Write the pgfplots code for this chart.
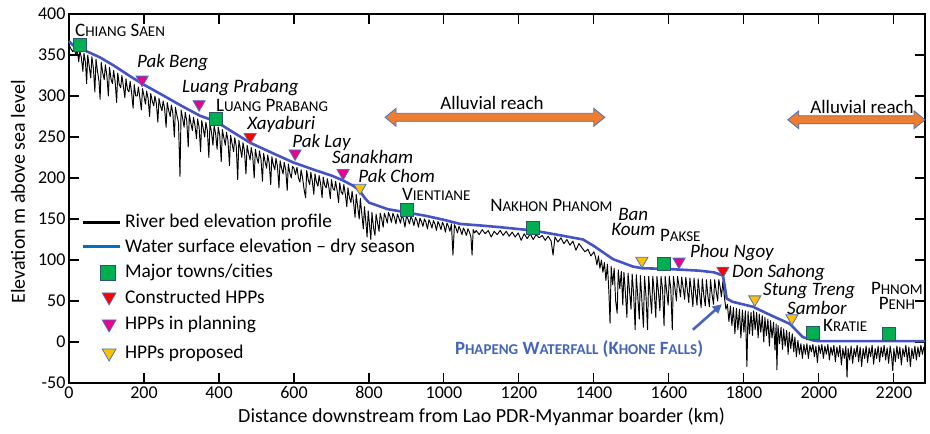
\documentclass[border=0pt]{standalone}
\usepackage{fontspec}
\setmainfont{Carlito}
\usepackage{pgfplots}
\pgfplotsset{compat=1.18}
\usetikzlibrary{calc,arrows.meta}
\definecolor{water}{RGB}{68,84,196}
\definecolor{legblue}{RGB}{0,112,192}
\definecolor{town}{RGB}{0,176,80}
\definecolor{townedge}{RGB}{45,85,110}
\definecolor{triedge}{RGB}{68,114,196}
\definecolor{hppgold}{RGB}{255,192,0}
\definecolor{arroworange}{RGB}{237,125,49}
\definecolor{fallblue}{RGB}{68,100,190}
\newcommand{\scsmall}{\fontsize{15}{15}\selectfont}
\newcommand{\SC}[2]{#1{\scsmall #2}}
\newcommand{\dblarrow}[3]{\draw[fill=arroworange, draw=triedge, line width=0.8pt]
 (axis cs:#1,#3) -- ++(11pt,9pt) -- ++(0pt,-5pt) -- ($(axis cs:#2,#3)+(-11pt,4pt)$) -- ++(0pt,5pt) -- (axis cs:#2,#3) -- ++(-11pt,-9pt) -- ++(0pt,5pt) -- ($(axis cs:#1,#3)+(11pt,-4pt)$) -- ++(0pt,-5pt) -- cycle;}
\begin{document}
\begin{tikzpicture}
\begin{axis}[
 scale only axis, width=856pt, height=369pt,
 xmin=0, xmax=2283, ymin=-50, ymax=400,
 xtick={0,200,...,2200}, ytick={-50,0,...,400},
 tick align=inside, major tick length=10pt,
 axis line style={line width=1.3pt},
 every tick/.style={black, line width=1.1pt},
 tick label style={font=\fontsize{18}{18}\selectfont},
 /pgf/number format/assume math mode=true,
 /pgf/number format/set thousands separator={},
 xlabel={Distance downstream from Lao PDR-Myanmar boarder (km)},
 ylabel={Elevation m above sea level},
 label style={font=\fontsize{20}{20}\selectfont},
 xlabel style={at={(axis description cs:0.482,-0.092)}, anchor=center},
 ylabel style={at={(axis description cs:-0.0596,0.518)}, anchor=center},
 clip=false,
]
% river bed
\addplot[black, line width=0.95pt, line join=round] coordinates {
(0,362)(6,357)(10,354)(14,359)(18,350)(22,356)(26,342)(29,355)(33,347)(37,330)(40,352)(44,341)(47,315)(50,350)(54,336)(58,322)(61,348)(65,334)(69,305)(72,345)(76,330)(80,318)(83,296)(86,341)(90,328)(94,320)(97,338)(101,325)(105,300)(108,335)(112,321)(116,315)(119,331)(123,318)(127,292)(130,328)(134,314)(138,310)(141,325)(145,312)(149,298)(152,321)(156,308)(160,305)(163,318)(167,304)(171,285)(174,314)(178,300)(182,300)(185,311)(189,298)(193,283)
(196,309)(200,300)(204,290)(207,306)(211,297)(215,275)(218,303)(222,294)(226,288)(229,300)(233,291)(237,268)(240,297)(244,288)(248,282)(251,294)(255,285)(259,262)(262,292)(266,282)(270,275)(273,289)(277,279)(281,250)(284,286)(288,276)(292,268)(296,202)(299,283)(303,273)(307,262)(310,280)(314,270)(318,238)(321,277)(325,267)(329,258)(332,274)(336,264)(340,248)(343,272)(347,262)(351,232)(354,270)(358,260)(362,250)(365,268)(369,258)(373,225)(376,266)(380,256)(384,240)(387,264)(391,254)(395,235)(398,262)(402,252)(406,220)(409,259)(413,249)(417,240)(420,256)(424,246)(428,215)(431,252)(435,242)(439,232)(442,249)(446,239)(450,198)(453,246)(457,236)(461,225)(464,243)(468,233)(472,205)(475,240)(479,230)(483,222)(486,237)(490,227)(494,200)(497,235)(501,225)(505,218)(508,233)(512,223)(516,196)(519,230)(523,220)(527,212)(530,228)(534,218)(538,192)(541,226)(545,216)(549,210)(552,224)(556,214)(560,188)(563,221)(567,212)(571,205)(574,219)(578,210)(582,185)(585,217)(589,206)(593,200)(596,214)
(600,212)(604,204)(608,213)(612,200)(616,195)(619,210)(623,200)(627,186)(631,176)(634,209)(638,198)(642,192)(645,207)(649,196)(653,180)(656,205)(660,195)(664,190)(667,203)(671,193)(675,176)(678,201)(682,191)(686,188)(689,199)(693,189)(697,175)(700,198)(704,187)(708,185)(711,196)(715,185)(719,170)(722,194)(726,183)(730,180)(733,192)(737,180)(741,165)(744,188)(748,176)(752,170)(755,184)(759,170)(763,152)(766,180)(770,165)(774,150)(777,175)(781,156)(785,138)(788,165)(792,145)(795,128)(798,160)(802,140)(805,125)(808,158)(812,140)(816,130)(819,156)(823,145)(827,135)(830,157)(834,150)(838,140)(841,157)(845,152)(849,145)(852,158)(856,153)(860,146)(864,157)(868,152)(872,144)(876,156)(880,151)(884,145)(888,155)(892,150)(896,140)(900,154)(904,150)(908,144)(912,153)(916,149)(920,142)(924,152)(928,148)(932,140)(936,151)(940,147)(944,141)(948,150)(952,146)(956,138)(960,149)(964,145)(968,139)(972,148)(976,144)(980,136)(984,147)(988,143)(992,137)(996,146)(1000,142)(1004,134)(1008,145)(1012,141)(1016,135)(1020,144)(1024,106)(1028,143)(1032,139)(1036,133)(1040,141)(1044,137)(1048,131)(1052,139)(1056,135)(1060,130)(1064,138)(1068,134)(1072,128)(1075,106)(1078,137)(1082,133)
(1086,136)(1094,131)(1102,137)(1110,132)(1118,136)(1126,128)(1134,135)(1142,131)(1150,136)(1158,130)(1166,135)(1174,129)(1182,134)(1190,128)(1198,133)(1206,124)(1214,132)(1222,126)(1230,132)(1238,125)(1246,131)(1254,127)(1262,130)(1270,124)(1278,129)(1286,123)(1291,106)(1296,128)(1304,122)(1312,127)(1320,120)(1328,125)(1336,118)(1344,123)(1352,112)(1360,120)(1368,115)(1376,110)(1384,113)(1392,105)(1400,110)
(1404,104)(1408,94)(1412,105)(1416,90)(1420,100)(1424,85)(1428,97)(1432,75)(1436,95)(1440,60)(1443,23)(1446,92)(1450,70)(1454,90)(1458,50)(1462,35)(1465,88)(1469,65)(1473,86)(1477,45)(1480,85)(1484,60)(1488,30)(1491,84)(1495,62)(1499,40)(1502,83)(1506,58)(1510,15)(1513,82)(1517,55)(1521,28)(1524,81)(1528,50)(1532,18)(1535,80)(1539,55)(1543,15)(1546,80)(1550,58)(1554,35)(1557,80)(1561,60)(1565,30)(1568,80)(1572,62)(1576,38)(1579,80)(1583,64)(1587,20)(1590,80)(1594,62)(1598,45)(1601,80)(1605,65)(1609,15)(1612,80)(1616,66)(1620,50)(1623,80)(1627,68)(1631,55)(1634,79)(1638,66)(1642,52)(1645,79)(1649,64)(1653,48)(1656,78)(1660,62)(1664,43)(1667,78)(1671,60)(1675,45)(1678,77)(1682,58)(1686,42)(1689,77)(1693,57)(1697,44)(1700,76)(1704,56)(1708,43)(1711,76)(1715,58)(1719,46)(1722,76)(1726,62)(1730,50)(1733,76)(1737,66)(1740,55)(1744,74)(1748,55)(1752,40)
(1756,46)(1760,25)(1764,44)(1768,20)(1772,42)(1776,10)(1780,41)(1784,15)(1788,40)(1792,5)(1796,39)(1800,12)(1804,38)(1808,-30)(1811,37)(1815,10)(1819,36)(1823,8)(1826,38)(1830,15)(1834,36)(1838,5)(1841,34)(1845,12)(1849,32)(1853,0)(1856,30)(1860,8)(1864,28)(1868,-5)(1871,26)(1875,5)(1879,24)(1883,-10)(1886,22)(1888,-34)(1891,20)(1895,-2)(1899,18)(1903,-9)(1906,16)(1910,-5)(1914,14)(1918,-15)(1921,12)(1925,-8)(1929,10)(1933,-12)(1936,6)(1940,-18)(1944,2)(1948,-15)(1952,-2)(1956,-20)
(1960,-3)(1964,-15)(1968,-2)(1972,-20)(1976,-4)(1980,-12)(1984,-3)(1988,-18)(1992,-5)(1996,-25)(2000,-4)(2004,-14)(2008,-3)(2012,-20)(2016,-5)(2020,-15)(2024,-3)(2028,-22)(2032,-6)(2036,-16)(2040,-4)(2044,-24)(2048,-6)(2052,-18)(2056,-4)(2060,-28)(2064,-8)(2068,-20)(2072,-5)(2075,-43)(2078,-8)(2082,-22)(2086,-5)(2090,-26)(2094,-8)(2098,-18)(2102,-4)(2106,-24)(2110,-6)(2114,-30)(2118,-8)(2122,-20)(2126,-5)(2130,-25)(2134,-7)(2138,-18)(2142,-4)(2146,-27)(2150,-8)(2154,-20)(2158,-5)(2162,-24)(2166,-6)(2170,-18)(2174,-4)(2178,-22)(2182,-7)(2186,-26)(2190,-5)(2194,-18)(2197,-35)(2200,-8)(2204,-24)(2208,-5)(2212,-20)(2216,-6)(2220,-28)(2224,-8)(2228,-18)(2232,-4)(2236,-24)(2240,-6)(2244,-30)(2248,-8)(2252,-20)(2256,-5)(2260,-22)(2264,-6)(2268,-18)(2272,-4)(2276,-15)(2280,-6)
};
% water surface
\addplot[water, line width=2.6pt, line join=round] coordinates {
(0,367)(10,362)(40,356)(83,347)(120,337)(160,325)(195,315)(250,301)(300,288)(349,276)(392,269)(430,258)(483,243)(540,231)(598,219)(660,209)(700,203)(731,197)(760,190)(776,184)(790,175)(800,170)(850,162)(900,158)(950,154)(1000,149)(1043,144)(1100,142)(1150,140)(1237,136)(1300,131)(1371,125)(1400,117)(1451,101)(1504,92)(1528,90)(1600,89)(1680,87)(1720,85)(1744,81)(1749,68)(1754,53)(1770,49)(1824,43)(1870,33)(1923,22)(1957,6)(1984,2)(2000,1)(2283,1)
};
% towns
\addplot[only marks, mark=square*, mark size=6.5pt, mark options={fill=town, draw=townedge, line width=0.8pt}] coordinates {
(30,362)(392,272)(901,161)(1237,139)(1587,95)(1984,11)(2187,10)};
% constructed HPPs
\addplot[only marks, mark=triangle*, mark size=7pt, mark options={rotate=180, fill=red, draw=triedge, line width=0.8pt}] coordinates {
(483,250)(1744,87)};
% HPPs in planning
\addplot[only marks, mark=triangle*, mark size=7pt, mark options={rotate=180, fill=magenta, draw=triedge, line width=0.8pt}] coordinates {
(195,320)(347,290)(603,230)(731,206)(1627,98)};
% HPPs proposed
\addplot[only marks, mark=triangle*, mark size=7pt, mark options={rotate=180, fill=hppgold, draw=triedge, line width=0.8pt}] coordinates {
(776,188)(1528,99)(1829,52)(1928,29)};

% legend (symbols drawn in axis units)
\draw[black, line width=2.6pt] (axis cs:37,145.5) -- (axis cs:136,145.5);
\draw[legblue, line width=2.6pt] (axis cs:37,116.1) -- (axis cs:136,116.1);
\addplot[only marks, mark=square*, mark size=7.5pt, mark options={fill=town, draw=townedge, line width=0.8pt}] coordinates {(104,84.4)};
\addplot[only marks, mark=triangle*, mark size=8pt, mark options={rotate=180, fill=red, draw=triedge, line width=0.8pt}] coordinates {(107,55)};
\addplot[only marks, mark=triangle*, mark size=8pt, mark options={rotate=180, fill=magenta, draw=triedge, line width=0.8pt}] coordinates {(107,22)};
\addplot[only marks, mark=triangle*, mark size=8pt, mark options={rotate=180, fill=hppgold, draw=triedge, line width=0.8pt}] coordinates {(107,-13.4)};
\begin{scope}[every node/.style={inner sep=0pt, anchor=base west, font=\fontsize{19.4}{20}\selectfont}]
\node at (axis cs:149,139.4) {River bed elevation profile};
\node at (axis cs:149,108.8) {Water surface elevation -- dry season};
\node at (axis cs:149,78.2) {Major towns/cities};
\node at (axis cs:149,46.5) {Constructed HPPs};
\node at (axis cs:149,14.7) {HPPs in planning};
\node at (axis cs:149,-19.6) {HPPs proposed};
\end{scope}

% town labels
\begin{scope}[every node/.style={inner sep=0pt, font=\fontsize{19}{19}\selectfont}]
\node[anchor=base west] at (axis cs:16,373) {\SC{C}{HIANG} \SC{S}{AEN}};
\node[anchor=base west] at (axis cs:392,281) {\SC{L}{UANG} \SC{P}{RABANG}};
\node[anchor=base west] at (axis cs:888,172) {\SC{V}{IENTIANE}};
\node[anchor=base west] at (axis cs:1123,159) {\SC{N}{AKHON} \SC{P}{HANOM}};
\node[anchor=base west] at (axis cs:1576,122) {\SC{P}{AKSE}};
\node[anchor=base west] at (axis cs:2011,13) {\SC{K}{RATIE}};
\node[anchor=base, align=center, font=\fontsize{19}{14.5}\selectfont] at (axis cs:2208,40) {\SC{P}{HNOM}\\\SC{P}{ENH}};
\end{scope}
% HPP labels
\begin{scope}[every node/.style={inner sep=0pt, font=\fontsize{19}{19}\selectfont\itshape}]
\node[anchor=base west] at (axis cs:181,335) {Pak Beng};
\node[anchor=base west] at (axis cs:301,304) {Luang Prabang};
\node[anchor=base west] at (axis cs:475,259) {Xayaburi};
\node[anchor=base west] at (axis cs:595,237) {Pak Lay};
\node[anchor=base west] at (axis cs:701,218) {Sanakham};
\node[anchor=base west] at (axis cs:771,195) {Pak Chom};
\node[anchor=base, align=center, font=\fontsize{19}{14.5}\selectfont\itshape] at (axis cs:1505,130) {Ban\\Koum};
\node[anchor=base west] at (axis cs:1656,103) {Phou Ngoy};
\node[anchor=base west] at (axis cs:1768,79) {Don Sahong};
\node[anchor=base west] at (axis cs:1851,56.5) {Stung Treng};
\node[anchor=base west] at (axis cs:1915,34) {Sambor};
\end{scope}
\node[anchor=base west, inner sep=0pt, text=fallblue, font=\fontsize{18.75}{19}\selectfont\bfseries] at (axis cs:1029,-15)
 {\SC{P}{HAPENG} \SC{W}{ATERFALL} (\SC{K}{HONE} \SC{F}{ALLS})};
\draw[-{Triangle[length=9pt,width=9pt]}, fallblue, line width=2.6pt] (axis cs:1664,15) -- (axis cs:1741,46);
% alluvial reaches
\dblarrow{843}{1429}{274}
\dblarrow{1917}{2283}{271}
\node[anchor=base, font=\fontsize{19}{19}\selectfont, inner sep=0pt] at (axis cs:1128,284) {Alluvial reach};
\node[anchor=base, font=\fontsize{19}{19}\selectfont, inner sep=0pt] at (axis cs:2115,279) {Alluvial reach};
\end{axis}
\pgfresetboundingbox
\path (-69pt,-51pt) rectangle (861pt,383pt);
\end{tikzpicture}
\end{document}
